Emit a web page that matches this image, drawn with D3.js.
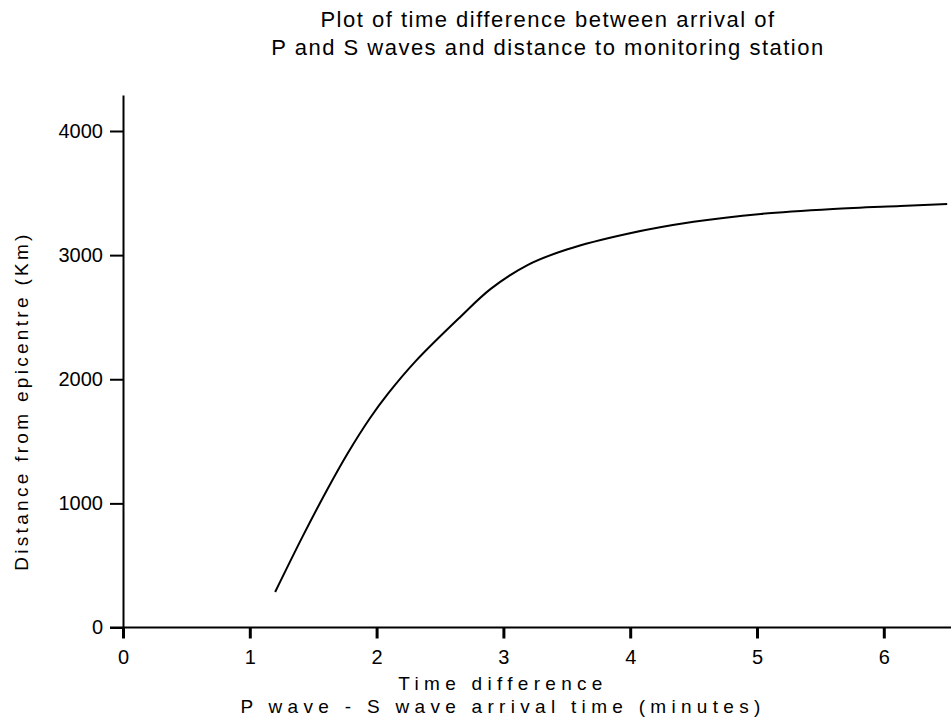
<!DOCTYPE html>
<html lang="en">
<head>
  <meta charset="UTF-8">
  <title>P and S wave time difference</title>
  <script src="https://d3js.org/d3.v7.min.js"></script>
  <style>
    body { margin: 0; background: #fff; }
    text { font-family: "Liberation Sans", Arial, sans-serif; fill: #000; }
  </style>
</head>
<body>
  <svg id="svg1"></svg>
  <script>
    // S-P time difference (minutes) and distance (km)
    const timeDiff = [1.20, 1.42, 1.61, 1.77, 1.95, 2.09, 2.31, 2.66, 2.90, 3.19, 3.50, 3.98, 4.50, 5.03, 5.60, 6.13, 6.50];
    const distance = [286, 740, 1110, 1400, 1690, 1884, 2148, 2502, 2728, 2920, 3045, 3172, 3268, 3332, 3372, 3396, 3412];
    const xTicks = [0, 1, 2, 3, 4, 5, 6];
    const yTicks = [0, 1000, 2000, 3000, 4000];

    const width = 951, height = 720;
    const svg = d3.select('#svg1').attr('width', width).attr('height', height);

    const x = d3.scaleLinear().domain([0, 6.53]).range([123, 951]);
    const y = d3.scaleLinear().domain([0, 4290]).range([627.5, 95]);

    // title
    const titleLines = ['Plot of time difference between arrival of', 'P and S waves and distance to monitoring station'];
    svg.selectAll('.title')
      .data(titleLines)
      .enter()
      .append('text')
      .attr('class', 'title')
      .attr('x', 548).attr('y', (d, i) => 27 + i * 28)
      .attr('text-anchor', 'middle')
      .style('font-size', '22px').style('letter-spacing', '1.5px')
      .text(d => d);

    // axes
    const xAxis = svg.append('g')
      .attr('transform', `translate(0, ${y(0)})`)
      .call(d3.axisBottom(x).tickValues(xTicks).tickFormat(d3.format('d'))
        .tickSize(11).tickSizeOuter(0).tickPadding(11));
    xAxis.select('.domain').attr('stroke-width', 2).attr('d', `M${x(0) - 13},0H${width}`);
    xAxis.selectAll('.tick line').attr('stroke-width', 3);
    xAxis.selectAll('.tick text').style('font-size', '20px').style('font-family', '"Liberation Sans", Arial, sans-serif');

    const yAxis = svg.append('g')
      .attr('transform', `translate(${x(0)}, 0)`)
      .call(d3.axisLeft(y).tickValues(yTicks).tickFormat(d3.format('d'))
        .tickSize(13).tickSizeOuter(0).tickPadding(7));
    yAxis.select('.domain').attr('stroke-width', 2);
    yAxis.selectAll('.tick line').attr('stroke-width', 2);
    yAxis.selectAll('.tick text').style('font-size', '20px').style('font-family', '"Liberation Sans", Arial, sans-serif');

    // axis titles
    const xTitle = ['Time difference', 'P wave - S wave arrival time (minutes)'];
    svg.selectAll('.xtitle')
      .data(xTitle)
      .enter()
      .append('text')
      .attr('class', 'xtitle')
      .attr('x', 503).attr('y', (d, i) => 690 + i * 23)
      .attr('text-anchor', 'middle')
      .style('font-size', '19px').style('letter-spacing', '5.3px')
      .text(d => d);
    svg.append('text')
      .attr('transform', 'translate(28, 401) rotate(-90)')
      .attr('text-anchor', 'middle')
      .style('font-size', '19px').style('letter-spacing', '3.3px')
      .text('Distance from epicentre (Km)');

    // curve
    const pts = timeDiff.map((t, i) => [t, distance[i]]);
    svg.append('path')
      .datum(pts)
      .attr('fill', 'none')
      .attr('stroke', '#000')
      .attr('stroke-width', 2)
      .attr('d', d3.line().x(d => x(d[0])).y(d => y(d[1])).curve(d3.curveCatmullRom.alpha(0.5)));
  </script>
</body>
</html>
